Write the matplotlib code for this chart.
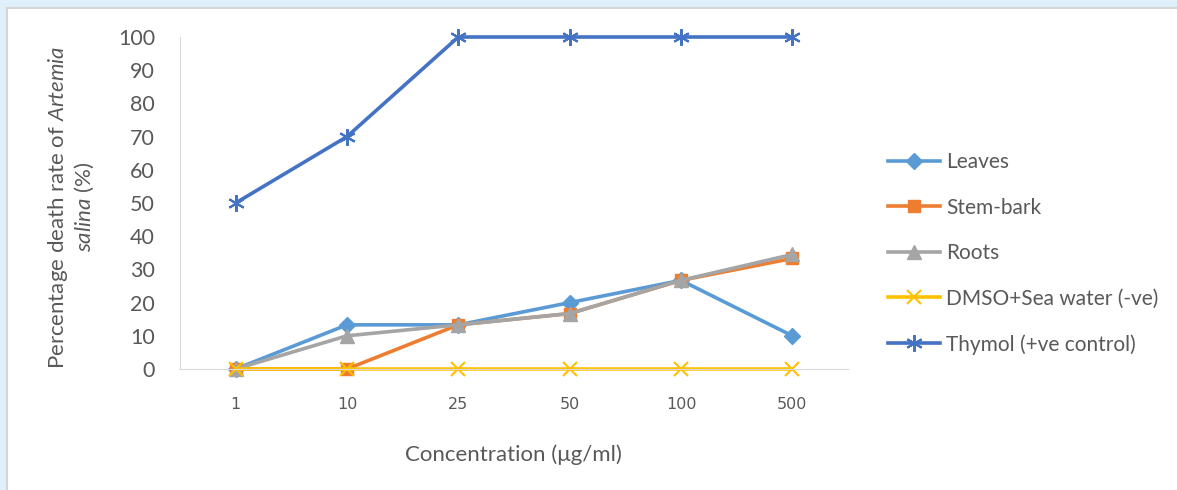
import numpy as np
import matplotlib
matplotlib.use('Agg')
import matplotlib.pyplot as plt
from matplotlib.patches import Rectangle

plt.rcParams['font.family'] = ['Lato', 'DejaVu Sans']
plt.rcParams['mathtext.fontset'] = 'custom'
plt.rcParams['mathtext.rm'] = 'Lato'
plt.rcParams['mathtext.it'] = 'Lato:italic'

concentrations = ['1', '10', '25', '50', '100', '500']
leaves = [0, 13.3, 13.3, 20, 26.7, 10]
stem_bark = [0, 0, 13.3, 16.7, 26.7, 33.3]
roots = [0, 10, 13.3, 16.7, 26.7, 34.5]
dmso = [0, 0, 0, 0, 0, 0]
thymol = [50, 70, 100, 100, 100, 100]

series = [
    ('Leaves', leaves, '#5B9BD5', 'D', 8),
    ('Stem-bark', stem_bark, '#ED7D31', 's', 9),
    ('Roots', roots, '#A5A5A5', '^', 10),
    ('DMSO+Sea water (-ve)', dmso, '#FFC000', 'x', 10),
    ('Thymol (+ve control)', thymol, '#4472C4', (6, 2, 0), 12),
]

W, H = 1177, 490
fig = plt.figure(figsize=(W / 100, H / 100), dpi=100)
fig.patch.set_facecolor('#DFF0FA')
fig.patches.append(Rectangle((7 / W, -0.05), 1.1, 1.05 - 8 / H, transform=fig.transFigure,
                             facecolor='white', edgecolor='#D5D5D5', linewidth=1.5, zorder=-5))

ax = fig.add_axes([180 / W, 1 - 369 / H, (848 - 180) / W, (369 - 37) / H])
ax.set_facecolor('none')
x = np.arange(len(concentrations))
for name, vals, col, mk, ms in series:
    mew = 1.5 if mk in ('x',) or isinstance(mk, tuple) else 1
    ax.plot(x, vals, color=col, lw=2.6, marker=mk, markersize=ms, markeredgewidth=mew,
            markeredgecolor=col, markerfacecolor=col, label=name, clip_on=False)

ax.set_xlim(-0.5, 5.5)
ax.set_ylim(0, 100)
ax.set_yticks(range(0, 101, 10))
ax.set_xticks(x)
ax.set_xticklabels(concentrations, fontsize=11.5, family='DejaVu Sans')
for s in ['top', 'right']:
    ax.spines[s].set_visible(False)
ax.spines['left'].set_color('#D9D9D9')
ax.spines['bottom'].set_color('#D9D9D9')
ax.tick_params(axis='both', length=0, colors='#595959')
ax.tick_params(axis='y', labelsize=15.5, pad=18)
ax.tick_params(axis='x', pad=20)

fig.text(513 / W, 1 - 455 / H, 'Concentration (\u03bcg/ml)', ha='center', va='center',
         fontsize=16, color='#595959')
fig.text(71 / W, 1 - 207 / H, 'Percentage death rate of $\\it{Artemia}$\n$\\it{salina}$ (%)',
         rotation=90, ha='center', va='center', fontsize=16, color='#595959',
         multialignment='center', linespacing=1.2)

fig.legend(loc='center left', bbox_to_anchor=(888 / W, 1 - 253.5 / H), bbox_transform=fig.transFigure,
           frameon=False, fontsize=15, handlelength=2.5, handletextpad=0.3, labelspacing=1.22,
           borderpad=0, borderaxespad=0, labelcolor='#595959')

fig.savefig('out.png', dpi=100, facecolor=fig.get_facecolor())
